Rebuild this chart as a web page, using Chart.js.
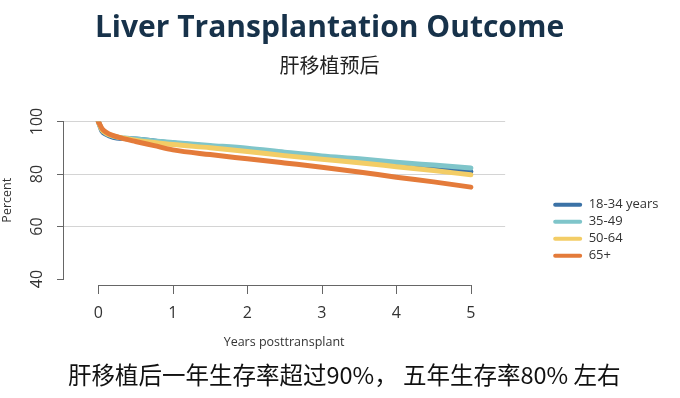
<!DOCTYPE html>
<html>
<head>
<meta charset="utf-8">
<script src="https://cdn.jsdelivr.net/npm/chart.js@4/dist/chart.umd.min.js"></script>
<style>
  html, body { margin: 0; padding: 0; background: #fff; }
  #wrap { position: relative; width: 680px; height: 398px; }
  #caption {
    position: absolute; left: 68px; top: 358px;
    font-family: "Noto Sans CJK SC", sans-serif; font-size: 23.5px; color: #111;
    white-space: nowrap; line-height: 32px;
  }
</style>
</head>
<body>
<div id="wrap">
  <canvas id="c" width="680" height="398"></canvas>
  <div id="caption">肝移植后一年生存率超过90%， 五年生存率80% 左右</div>
</div>
<script>
const years = [0, 0.05, 0.1, 0.2, 0.35, 0.5, 0.75, 1, 1.5, 2, 2.5, 3, 3.5, 4, 4.5, 5];
const age18to34 = [100, 96.3, 95.2, 94.0, 93.5, 93.3, 92.6, 91.8, 90.6, 89.4, 87.8, 86.4, 85.0, 83.5, 82.2, 80.9];
const age35to49 = [100, 96.8, 95.6, 94.3, 93.7, 93.3, 92.6, 92.0, 90.9, 89.8, 88.3, 86.9, 85.8, 84.5, 83.4, 82.3];
const age50to64 = [100, 96.8, 95.6, 94.5, 93.6, 92.9, 92.0, 91.2, 90.0, 88.6, 87.0, 85.6, 84.3, 82.8, 81.3, 79.7];
const age65plus = [100, 97.3, 96.0, 94.6, 93.4, 92.4, 90.8, 89.2, 87.4, 85.8, 84.2, 82.6, 80.8, 78.8, 77.0, 75.0];
const seriesLabels = ['18-34 years', '35-49', '50-64', '65+'];
const xTickValues = [0, 1, 2, 3, 4, 5];

const colors = ['#3b72a6', '#7fc5ca', '#f3cd66', '#e47b3a'];
const font = 'Open Sans';

function pts(vals) {
    return vals.map((v, i) => ({x: years[i], y: v}));
}

// R style detached x axis line with tick marks
const xAxisLine = {
    id: 'xAxisLine',
    afterDraw(chart) {
        const sx = chart.scales.x;
        const ctx = chart.ctx;
        const y0 = chart.chartArea.bottom + 6;
        ctx.save();
        ctx.strokeStyle = '#666';
        ctx.lineWidth = 1;
        ctx.beginPath();
        ctx.moveTo(sx.getPixelForValue(xTickValues[0]), y0 + 0.5);
        ctx.lineTo(sx.getPixelForValue(xTickValues[xTickValues.length - 1]), y0 + 0.5);
        xTickValues.forEach(v => {
            const px = Math.round(sx.getPixelForValue(v)) + 0.5;
            ctx.moveTo(px, y0);
            ctx.lineTo(px, y0 + 9);
        });
        ctx.stroke();
        ctx.restore();
    }
};

const datasets = [age18to34, age35to49, age50to64, age65plus].map((vals, i) => ({
    label: seriesLabels[i],
    data: pts(vals),
    borderColor: colors[i],
    backgroundColor: colors[i],
    borderWidth: 5,
    pointRadius: 0,
    cubicInterpolationMode: 'monotone',
    borderCapStyle: 'round',
    order: 4 - i
}));

new Chart(document.getElementById('c'), {
    type: 'line',
    data: { datasets: datasets },
    plugins: [xAxisLine],
    options: {
        responsive: false,
        animation: false,
        layout: { padding: { left: 0, right: 21, top: 0, bottom: 0 } },
        plugins: {
            tooltip: { enabled: false },
            title: {
                display: true,
                text: 'Liver Transplantation Outcome',
                color: '#17324a',
                font: { family: font, size: 30, weight: 'bold', lineHeight: 1.2 },
                padding: { top: 10, bottom: 7 }
            },
            subtitle: {
                display: true,
                text: '肝移植预后',
                color: '#222',
                font: { family: '"Noto Sans CJK SC"', size: 20, lineHeight: 1.2 },
                padding: { top: 0, bottom: 44.5 }
            },
            legend: {
                position: 'right',
                align: 'center',
                title: { display: true, text: '', padding: { top: 24, bottom: 24 }, font: { size: 12 } },
                labels: {
                    boxWidth: 29,
                    boxHeight: 4,
                    padding: 4,
                    color: '#333',
                    font: { family: font, size: 13 },
                    useBorderRadius: true,
                    borderRadius: 2,
                    sort: (a, b) => a.datasetIndex - b.datasetIndex,
                    generateLabels: chart => Chart.defaults.plugins.legend.labels.generateLabels(chart)
                        .map(l => Object.assign(l, { lineWidth: 0 }))
                }
            }
        },
        scales: {
            x: {
                type: 'linear',
                min: -0.474,
                max: 5.46,
                afterBuildTicks: s => { s.ticks = xTickValues.map(v => ({value: v})); },
                afterFit: s => { s.height = 119; },
                grid: { display: false, drawTicks: false },
                border: { display: false },
                ticks: { padding: 25, color: '#333', font: { family: font, size: 16 } },
                title: {
                    display: true,
                    text: 'Years posttransplant',
                    color: '#333',
                    font: { family: font, size: 12.5 },
                    padding: { top: 0, bottom: 48 }
                }
            },
            y: {
                min: 40,
                max: 100,
                afterFit: s => { s.width = 63; },
                grid: {
                    color: c => (c.tick && c.tick.value === 40) ? 'rgba(0,0,0,0)' : '#d4d4d4',
                    tickColor: '#666',
                    tickLength: 6
                },
                border: { display: true, color: '#666' },
                ticks: {
                    stepSize: 10,
                    minRotation: 90,
                    maxRotation: 90,
                    crossAlign: 'center',
                    padding: 6,
                    color: '#333',
                    font: { family: font, size: 16 },
                    callback: v => (v % 20 === 0 ? v : '')
                },
                title: {
                    display: true,
                    text: 'Percent',
                    color: '#333',
                    font: { family: font, size: 12.5 },
                    padding: 0
                }
            },
            yPad: {
                position: 'right',
                display: true,
                afterFit: s => { s.width = 44; },
                grid: { display: false, drawTicks: false },
                border: { display: false },
                ticks: { display: false }
            }
        }
    }
});
</script>
</body>
</html>
